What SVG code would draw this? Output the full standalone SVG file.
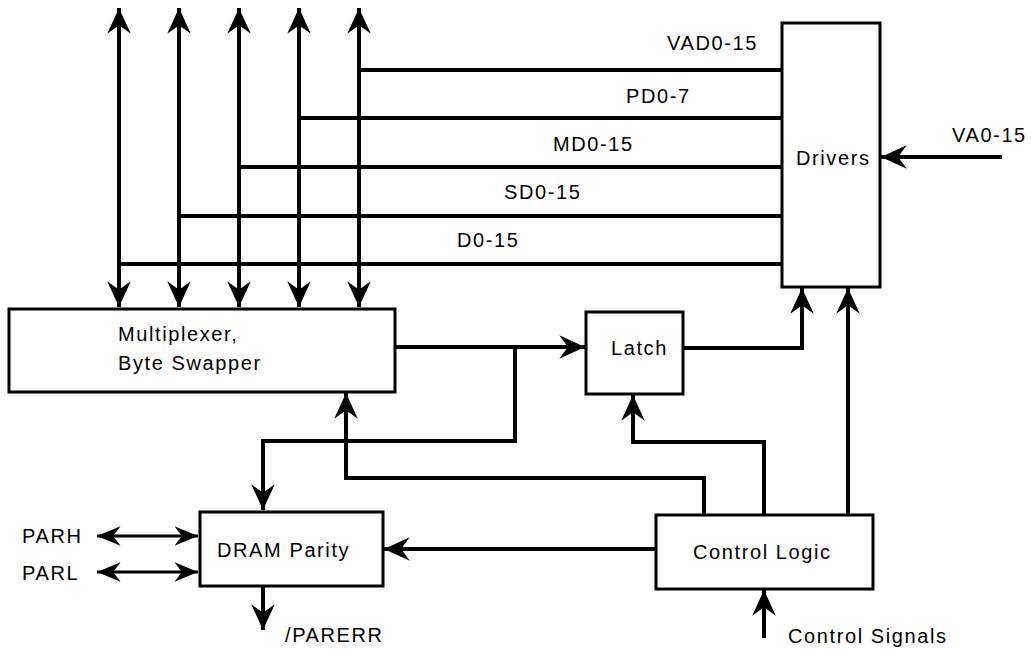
<svg xmlns="http://www.w3.org/2000/svg" width="1031" height="649" viewBox="0 0 1031 649">
<style>
.box{fill:#fff;stroke:#000;stroke-width:3}
.w{fill:none;stroke:#000;stroke-width:4;stroke-linejoin:miter}
.t{stroke-width:3}
text{font-family:"Liberation Sans",Arial,sans-serif;font-size:20px;letter-spacing:1.6px;fill:#000}
</style>
<defs>
<marker id="a" markerUnits="userSpaceOnUse" markerWidth="30" markerHeight="30" viewBox="-26 -13 28 26" refX="0" refY="0" orient="auto-start-reverse">
<path d="M0,0 L-24,-11 L-16,0 L-24,11 Z" fill="#000"/>
</marker>
<marker id="s" markerUnits="userSpaceOnUse" markerWidth="30" markerHeight="30" viewBox="-26 -13 28 26" refX="0" refY="0" orient="auto-start-reverse">
<path d="M0,0 L-22,-9 L-15,0 L-22,9 Z" fill="#000"/>
</marker>
</defs>
<g id="connectors">
<line class="w" x1="119" y1="8" x2="119" y2="307" marker-start="url(#a)" marker-end="url(#a)"/>
<line class="w" x1="179" y1="8" x2="179" y2="307" marker-start="url(#a)" marker-end="url(#a)"/>
<line class="w" x1="239" y1="8" x2="239" y2="307" marker-start="url(#a)" marker-end="url(#a)"/>
<line class="w" x1="299" y1="8" x2="299" y2="307" marker-start="url(#a)" marker-end="url(#a)"/>
<line class="w" x1="359" y1="8" x2="359" y2="307" marker-start="url(#a)" marker-end="url(#a)"/>
<line class="w" x1="359" y1="70" x2="782" y2="70"/>
<line class="w" x1="299" y1="118" x2="782" y2="118"/>
<line class="w" x1="239" y1="167" x2="782" y2="167"/>
<line class="w" x1="179" y1="216" x2="782" y2="216"/>
<line class="w" x1="119" y1="264" x2="782" y2="264"/>
<line class="w" x1="1002" y1="157" x2="881" y2="157" marker-end="url(#a)"/>
<line class="w" x1="395" y1="347" x2="585" y2="347" marker-end="url(#a)"/>
<polyline class="w" points="515,347 515,441 263,441 263,510" marker-end="url(#a)"/>
<polyline class="w" points="704,515 704,478 346,478 346,393" marker-end="url(#a)"/>
<polyline class="w" points="764,515 764,442 633,442 633,395" marker-end="url(#a)"/>
<polyline class="w" points="683,348 802,348 802,288" marker-end="url(#a)"/>
<line class="w" x1="848" y1="515" x2="848" y2="288" marker-end="url(#a)"/>
<line class="w" x1="656" y1="549" x2="384" y2="549" marker-end="url(#a)"/>
<line class="w t" x1="97" y1="536" x2="198" y2="536" marker-start="url(#s)" marker-end="url(#s)"/>
<line class="w t" x1="97" y1="572" x2="198" y2="572" marker-start="url(#s)" marker-end="url(#s)"/>
<line class="w" x1="263" y1="587" x2="263" y2="630" marker-end="url(#a)"/>
<line class="w" x1="764" y1="638" x2="764" y2="590" marker-end="url(#a)"/>
</g>
<g id="labels">
<text x="667" y="50">VAD0-15</text>
<text x="626" y="103">PD0-7</text>
<text x="553" y="151">MD0-15</text>
<text x="504" y="199">SD0-15</text>
<text x="457" y="247">D0-15</text>
<text x="952" y="142">VA0-15</text>
<text x="22" y="543">PARH</text>
<text x="22" y="580">PARL</text>
<text x="285" y="642">/PARERR</text>
<text x="788" y="643">Control Signals</text>
</g>
<g id="drivers">
<rect class="box" x="782" y="23" width="98" height="264"/>
<text x="796" y="165">Drivers</text>
</g>
<g id="multiplexer">
<rect class="box" x="9" y="309" width="386" height="83"/>
<text x="118" y="341">Multiplexer,</text>
<text x="118" y="370">Byte Swapper</text>
</g>
<g id="latch">
<rect class="box" x="586" y="312" width="97" height="82"/>
<text x="611" y="355">Latch</text>
</g>
<g id="dram-parity">
<rect class="box" x="200" y="512" width="183" height="74"/>
<text x="217" y="557">DRAM Parity</text>
</g>
<g id="control-logic">
<rect class="box" x="656" y="515" width="217" height="74"/>
<text x="693" y="559">Control Logic</text>
</g>
</svg>
